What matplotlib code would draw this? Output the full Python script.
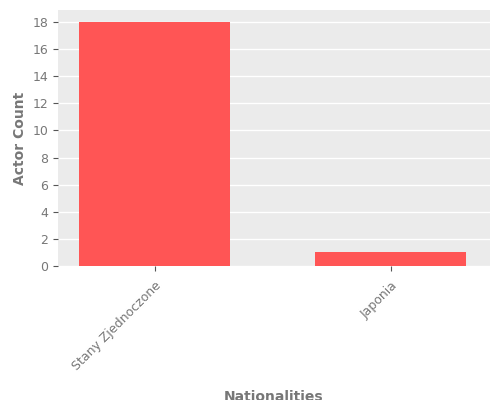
import matplotlib
matplotlib.use('Agg')
import matplotlib.pyplot as plt

nationalities = ["Stany Zjednoczone", "Japonia"]
counts = [18, 1]

fig = plt.figure(figsize=(5, 4), dpi=100)
ax = fig.add_axes([0.116, 0.335, 0.864, 0.64])
ax.set_facecolor('#EBEBEB')
ax.grid(True, axis='y', color='white', linewidth=1)
ax.set_axisbelow(True)
for s in ax.spines.values():
    s.set_visible(False)

x = range(len(nationalities))
ax.bar(x, counts, width=0.64, color='#FF5555')
ax.set_xlim(-0.41, 1.42)
ax.set_ylim(0, 18.88)
ax.set_yticks(range(0, 19, 2))
ax.set_xticks(list(x))
ax.set_xticklabels(nationalities, rotation=45, ha='right', rotation_mode='anchor')
ax.tick_params(colors='#555555', labelcolor='#777777', labelsize=9)
ax.tick_params(axis='x', pad=6)
ax.set_xlabel('Nationalities', fontsize=10, fontweight='bold', color='#777777', labelpad=12)
ax.set_ylabel('Actor Count', fontsize=10, fontweight='bold', color='#777777')

plt.savefig('out.png', dpi=100)
